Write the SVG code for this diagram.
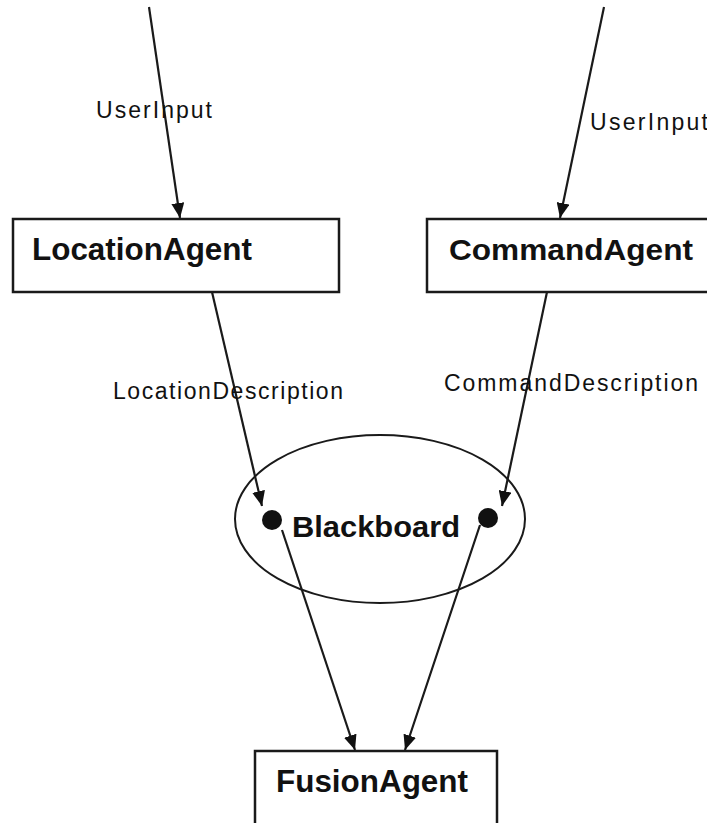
<svg xmlns="http://www.w3.org/2000/svg" width="707" height="823" viewBox="0 0 707 823">
  <style>
    .box { fill: #fff; stroke: #1a1a1a; stroke-width: 2.5; }
    .edge { stroke: #1a1a1a; stroke-width: 2.2; fill: none; marker-end: url(#arrow); }
    .title { font-family: "Liberation Sans", Arial, sans-serif; font-weight: bold; fill: #111; }
    .label { font-family: "Liberation Sans", Arial, sans-serif; font-size: 23px; fill: #111; }
  </style>
  <defs>
    <marker id="arrow" markerUnits="userSpaceOnUse" markerWidth="15" markerHeight="13" viewBox="0 0 15 13" refX="15" refY="6.5" orient="auto">
      <path d="M0,0 L15,6.5 L0,13 Z" fill="#111"/>
    </marker>
  </defs>
  <rect width="707" height="823" fill="#fff"/>

  <g id="LocationAgent">
    <rect class="box" x="13" y="219" width="326" height="73"/>
    <text class="title" x="32" y="260" font-size="31" textLength="220" lengthAdjust="spacingAndGlyphs">LocationAgent</text>
  </g>

  <g id="CommandAgent">
    <rect class="box" x="427" y="219" width="290" height="73"/>
    <text class="title" x="449" y="260" font-size="30" textLength="244" lengthAdjust="spacingAndGlyphs">CommandAgent</text>
  </g>

  <g id="Blackboard">
    <ellipse cx="380" cy="519" rx="145" ry="84" fill="none" stroke="#1a1a1a" stroke-width="2"/>
    <circle cx="272" cy="520" r="10" fill="#111"/>
    <circle cx="488" cy="518" r="10" fill="#111"/>
    <text class="title" x="292" y="537" font-size="30" textLength="168" lengthAdjust="spacingAndGlyphs">Blackboard</text>
  </g>

  <g id="FusionAgent">
    <rect class="box" x="255" y="751" width="242" height="80"/>
    <text class="title" x="276" y="792" font-size="31" textLength="192" lengthAdjust="spacingAndGlyphs">FusionAgent</text>
  </g>

  <g id="connectors">
    <line class="edge" x1="149" y1="7" x2="180" y2="218"/>
    <line class="edge" x1="604" y1="7" x2="560" y2="218"/>
    <line class="edge" x1="212" y1="292" x2="262" y2="506"/>
    <line class="edge" x1="547" y1="292" x2="502" y2="506"/>
    <line class="edge" x1="282" y1="530" x2="355" y2="750"/>
    <line class="edge" x1="480" y1="525" x2="405" y2="750"/>
    <text class="label" x="96" y="118" textLength="116" lengthAdjust="spacing">UserInput</text>
    <text class="label" x="590" y="130" textLength="118" lengthAdjust="spacing">UserInput</text>
    <text class="label" x="113" y="399" textLength="230" lengthAdjust="spacing">LocationDescription</text>
    <text class="label" x="444" y="391" textLength="254" lengthAdjust="spacing">CommandDescription</text>
  </g>
</svg>
